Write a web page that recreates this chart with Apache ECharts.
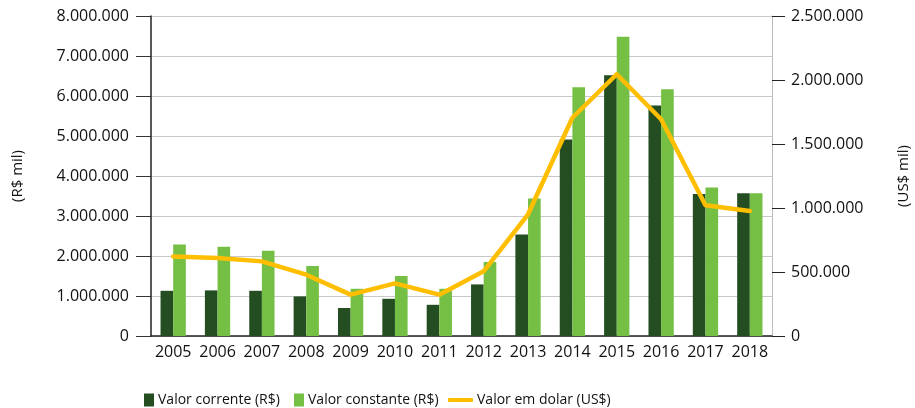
<!DOCTYPE html>
<html>
<head>
<meta charset="utf-8">
<script src="https://cdn.jsdelivr.net/npm/echarts@6/dist/echarts.min.js"></script>
<style>
  html, body { margin: 0; padding: 0; background: #fff; }
  #chart { width: 915px; height: 408px; }
</style>
</head>
<body>
<div id="chart"></div>
<script>
// anos
var years = ["2005", "2006", "2007", "2008", "2009", "2010", "2011", "2012", "2013", "2014", "2015", "2016", "2017", "2018"];
// R$ mil
var valorCorrente = [1130000, 1140000, 1130000, 990000, 700000, 930000, 780000, 1290000, 2540000, 4910000, 6520000, 5760000, 3550000, 3570000];
var valorConstante = [2290000, 2230000, 2130000, 1750000, 1180000, 1500000, 1180000, 1850000, 3440000, 6220000, 7480000, 6170000, 3710000, 3570000];
// US$ mil
var valorDolar = [622000, 610000, 583000, 479000, 323000, 411000, 323000, 505000, 951000, 1705000, 2045000, 1693000, 1021000, 977000];

var fontFam = "'Open Sans', 'Noto Sans', sans-serif";

function fmt(v) {
  return String(v).replace(/\B(?=(\d{3})+(?!\d))/g, ".");
}

// uma legenda por item para fixar as posicoes
function legendItem(name, left, w, h, icon, pad) {
  return {
    data: [name],
    left: left,
    top: 388,
    itemWidth: w,
    itemHeight: h,
    icon: icon,
    textStyle: { fontSize: 14, color: "#111", fontFamily: fontFam, padding: [0, 0, 0, pad] }
  };
}

var myChart = echarts.init(document.getElementById("chart"));
var option = {
  animation: false,
  textStyle: { fontFamily: fontFam, color: "#111" },
  grid: { left: 151, right: 143, top: 16, bottom: 72, outerBoundsMode: "none" },
  legend: [
    legendItem("Valor corrente (R$)", 139, 10, 13, "rect", -1),
    legendItem("Valor constante (R$)", 289, 10, 13, "rect", -1),
    legendItem("Valor em dolar (US$)", 443, 25, 4, "roundRect", -1)
  ],
  xAxis: {
    type: "category",
    data: years,
    axisLine: { lineStyle: { color: "#222", width: 1.5 } },
    axisTick: { length: 10, lineStyle: { color: "#555" } },
    axisLabel: { interval: 0, fontSize: 16, color: "#111", margin: 8, fontFamily: fontFam }
  },
  yAxis: [
    {
      type: "value",
      min: 0,
      max: 8000000,
      interval: 1000000,
      name: "(R$ mil)",
      nameLocation: "middle",
      nameRotate: 90,
      nameGap: 126,
      nameTextStyle: { fontSize: 15, color: "#111", fontFamily: fontFam },
      axisLine: { show: true, lineStyle: { color: "#222", width: 1.5 } },
      axisTick: { show: true, length: 15, lineStyle: { color: "#333" } },
      axisLabel: { fontSize: 16, color: "#111", margin: 22, formatter: fmt, fontFamily: fontFam },
      splitLine: { lineStyle: { color: "#c8c8c8" } }
    },
    {
      type: "value",
      min: 0,
      max: 2500000,
      interval: 500000,
      name: "(US$ mil)",
      nameLocation: "middle",
      nameRotate: 90,
      nameGap: 124,
      nameTextStyle: { fontSize: 15, color: "#111", fontFamily: fontFam },
      axisLine: { show: true, lineStyle: { color: "#bbb", width: 1 } },
      axisTick: { show: true, length: 13, lineStyle: { color: "#222" } },
      axisLabel: { fontSize: 16, color: "#111", margin: 19, formatter: fmt, fontFamily: fontFam },
      splitLine: { show: false }
    }
  ],
  series: [
    {
      name: "Valor corrente (R$)",
      type: "bar",
      data: valorCorrente,
      barGap: "0%",
      barCategoryGap: "43%",
      itemStyle: { color: "#244d22" }
    },
    {
      name: "Valor constante (R$)",
      type: "bar",
      data: valorConstante,
      itemStyle: { color: "#76bf45" }
    },
    {
      name: "Valor em dolar (US$)",
      type: "line",
      yAxisIndex: 1,
      data: valorDolar,
      symbol: "none",
      lineStyle: { color: "#ffbe00", width: 4.5, cap: "round", join: "round" },
      itemStyle: { color: "#ffbe00" }
    }
  ]
};
myChart.setOption(option);
</script>
</body>
</html>
